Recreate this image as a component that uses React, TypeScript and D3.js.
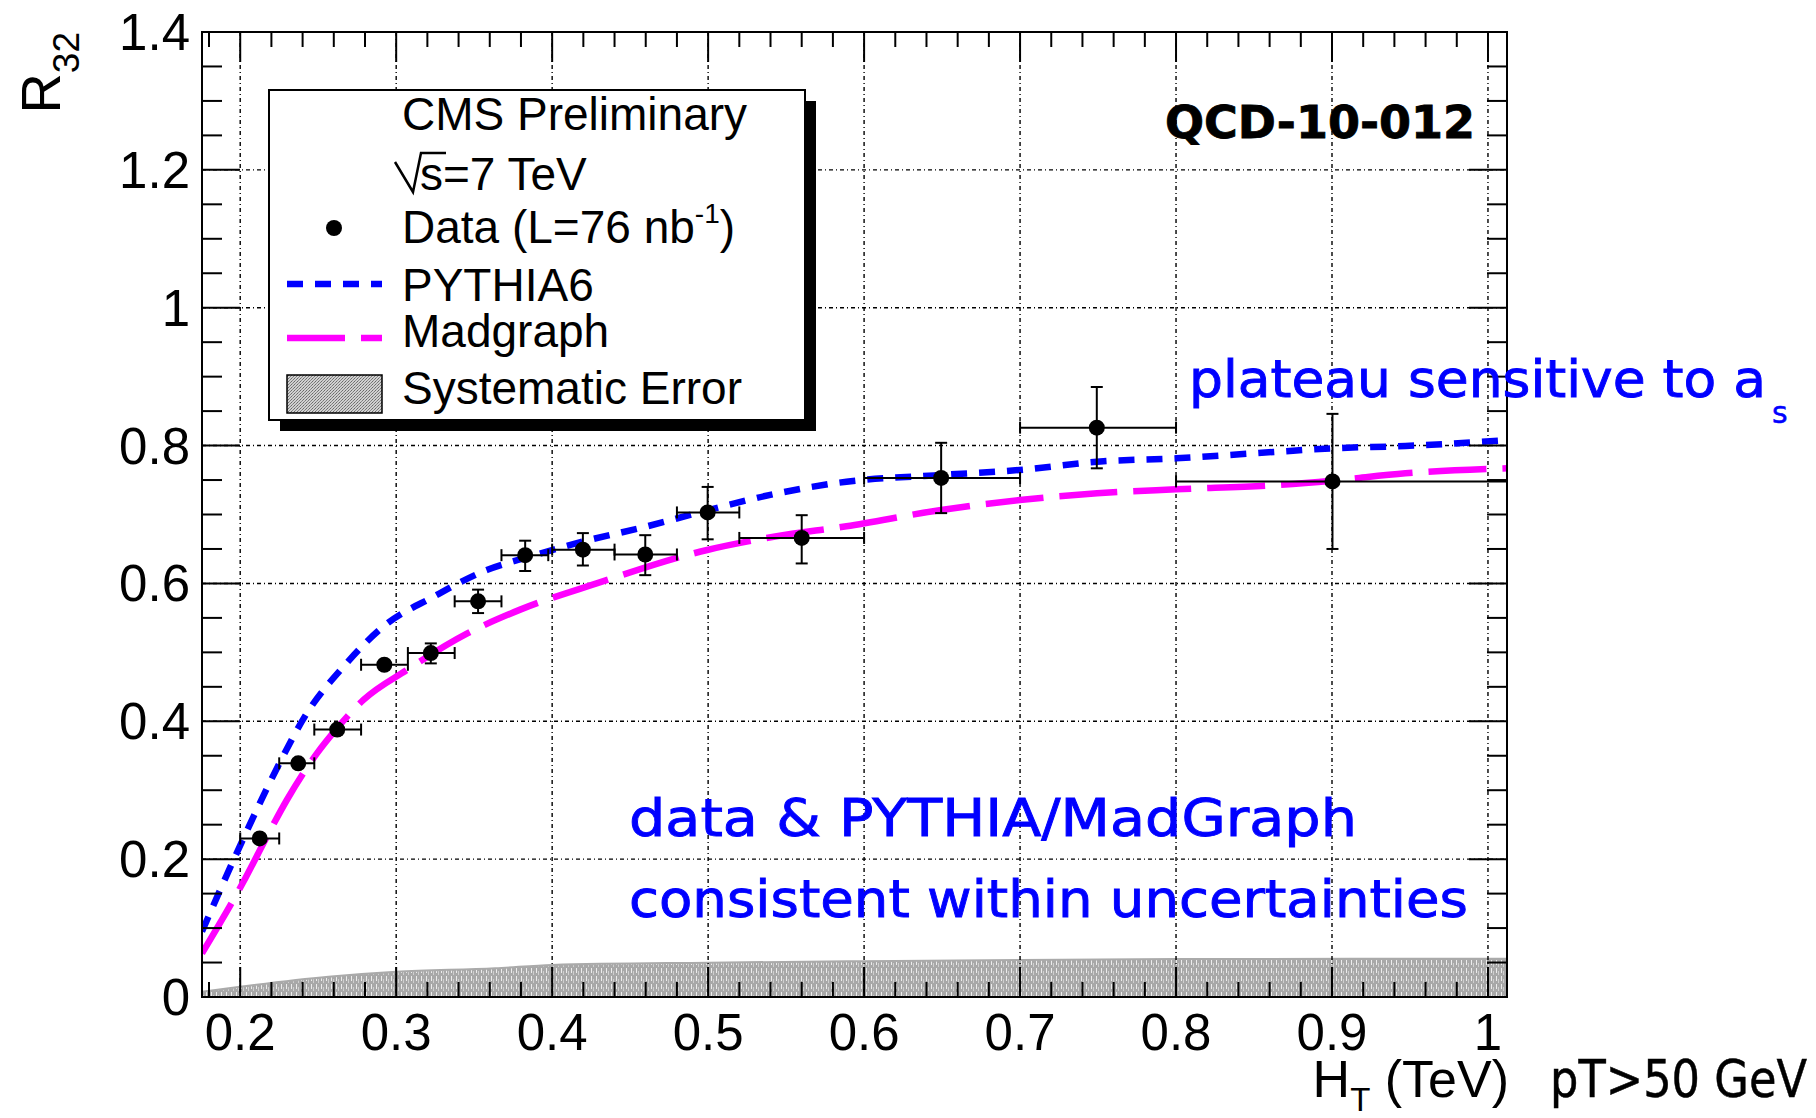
import React from 'react';
import * as d3 from 'd3';

const WIDTH = 1816;
const HEIGHT = 1118;

// ---- Data: R32 vs HT (TeV) ----
const binLow = [0.2, 0.225, 0.2475, 0.2775, 0.3075, 0.3375, 0.3675, 0.4, 0.44, 0.48, 0.52, 0.6, 0.7, 0.8];
const binHigh = [0.225, 0.2475, 0.2775, 0.3075, 0.3375, 0.3675, 0.3975, 0.44, 0.48, 0.52, 0.6, 0.7, 0.8, 1.1];
const dataHT = [0.2125, 0.2372, 0.2622, 0.2924, 0.3222, 0.3525, 0.3827, 0.4197, 0.4597, 0.4997, 0.56, 0.6494, 0.7492, 0.9003];
const dataR32 = [0.23, 0.339, 0.388, 0.482, 0.499, 0.574, 0.641, 0.649, 0.642, 0.703, 0.666, 0.753, 0.826, 0.748];
const dataUp = [0.236, 0.345, 0.394, 0.488, 0.513, 0.591, 0.662, 0.673, 0.670, 0.740, 0.699, 0.804, 0.885, 0.846];
const dataDown = [0.224, 0.333, 0.382, 0.476, 0.484, 0.557, 0.618, 0.626, 0.612, 0.664, 0.629, 0.702, 0.767, 0.650];

const pythiaHT = [0.1755, 0.2006, 0.2246, 0.2427, 0.2662, 0.293, 0.3239, 0.3581, 0.3827, 0.4193, 0.4594, 0.4994, 0.543, 0.5887, 0.6494, 0.6998, 0.7494, 0.8, 0.8647, 0.9, 0.947, 1.0122];
const pythiaR32 = [0.095, 0.223, 0.3366, 0.4116, 0.4792, 0.5397, 0.5807, 0.6195, 0.637, 0.6605, 0.682, 0.706, 0.73, 0.7476, 0.7573, 0.7646, 0.7766, 0.7815, 0.791, 0.796, 0.7994, 0.808];

const madgraphHT = [0.1755, 0.2032, 0.2171, 0.2299, 0.2492, 0.262, 0.279, 0.3069, 0.3453, 0.3795, 0.4285, 0.4994, 0.543, 0.5887, 0.6494, 0.6998, 0.7494, 0.8, 0.8647, 0.9, 0.947, 1.0122];
const madgraphR32 = [0.0634, 0.172, 0.2326, 0.2858, 0.3535, 0.3898, 0.431, 0.4744, 0.527, 0.562, 0.6, 0.6485, 0.668, 0.683, 0.7065, 0.721, 0.7307, 0.7365, 0.7428, 0.749, 0.7597, 0.767];

const systHT = [0.1755, 0.2, 0.2566, 0.3, 0.3635, 0.4, 0.5, 0.6, 0.7, 0.8, 1.0122];
const systErr = [0.0077, 0.015, 0.0295, 0.0367, 0.0416, 0.0464, 0.0498, 0.052, 0.0537, 0.0551, 0.0556];

const xTickValues = [0.2, 0.3, 0.4, 0.5, 0.6, 0.7, 0.8, 0.9, 1.0];
const xTickLabels = ['0.2', '0.3', '0.4', '0.5', '0.6', '0.7', '0.8', '0.9', '1'];
const yTickValues = [0, 0.2, 0.4, 0.6, 0.8, 1.0, 1.2, 1.4];
const yTickLabels = ['0', '0.2', '0.4', '0.6', '0.8', '1', '1.2', '1.4'];

const HELV = '"Liberation Sans", Arial, Helvetica, sans-serif';
const HAND = '"DejaVu Sans", "Noto Sans", sans-serif';

export default function App() {
  const L = 202, R = 1507, T = 32, B = 997;
  const x = d3.scaleLinear().domain([0.1755, 1.0122]).range([L, R]);
  const y = d3.scaleLinear().domain([0, 1.4]).range([B, T]);

  const xMinor = d3.range(0.18, 1.011, 0.02);
  const yMinor = d3.range(0, 1.4001, 0.05);

  const line = d3
    .line<[number, number]>()
    .x((d) => x(d[0]))
    .y((d) => y(d[1]))
    .curve(d3.curveMonotoneX);

  const pythiaPath = line(pythiaHT.map((v, i) => [v, pythiaR32[i]]) as [number, number][]) || '';
  const madPath = line(madgraphHT.map((v, i) => [v, madgraphR32[i]]) as [number, number][]) || '';
  const area = d3
    .area<[number, number]>()
    .x((d) => x(d[0]))
    .y0(y(0))
    .y1((d) => y(d[1]))
    .curve(d3.curveMonotoneX);
  const systPath = area(systHT.map((v, i) => [v, systErr[i]]) as [number, number][]) || '';

  const gridDash = '4 3 1 3';
  const cap = 6;
  const r = 8;

  return (
    <svg
      width={WIDTH}
      height={HEIGHT}
      style={{ position: 'absolute', left: 0, top: 0, background: '#fff' }}
      xmlns="http://www.w3.org/2000/svg"
    >
      <defs>
        <clipPath id="plotClip">
          <rect x={L} y={T} width={R - L} height={B - T} />
        </clipPath>
        <pattern id="systPat" width="5" height="8" patternUnits="userSpaceOnUse">
          <rect width="5" height="8" fill="#a8a8a8" />
          <rect x="1" y="0" width="1" height="5" fill="#ececec" />
          <rect x="3" y="3" width="1" height="4" fill="#cfcfcf" />
        </pattern>
        <pattern id="legPat" width="3" height="3" patternUnits="userSpaceOnUse">
          <rect width="3" height="3" fill="#d0d0d0" />
          <rect x="0" y="0" width="1" height="1" fill="#6a6a6a" />
          <rect x="2" y="1" width="1" height="1" fill="#7a7a7a" />
          <rect x="1" y="2" width="1" height="1" fill="#8a8a8a" />
        </pattern>
      </defs>
      <rect x={0} y={0} width={WIDTH} height={HEIGHT} fill="#fff" />

      {/* systematic band */}
      <path d={systPath} fill="url(#systPat)" stroke="#aaa" strokeWidth={2} clipPath="url(#plotClip)" />

      {/* grid */}
      <g stroke="#000" strokeWidth={1.4} strokeDasharray={gridDash} fill="none">
        {xTickValues.map((v) => (
          <line key={'gx' + v} x1={x(v)} x2={x(v)} y1={T} y2={B} />
        ))}
        {yTickValues
          .filter((v) => v > 0 && v < 1.4)
          .map((v) => (
            <line key={'gy' + v} x1={L} x2={R} y1={y(v)} y2={y(v)} />
          ))}
      </g>

      {/* model curves */}
      <g clipPath="url(#plotClip)" fill="none">
        <path d={madPath} stroke="#ff00ff" strokeWidth={6.5} strokeDasharray="58 16" />
        <path d={pythiaPath} stroke="#0000ff" strokeWidth={6.5} strokeDasharray="16 12" />
      </g>

      {/* data points */}
      <g clipPath="url(#plotClip)" stroke="#000" strokeWidth={2}>
        {dataHT.map((v, i) => {
          const cx = x(v);
          const cy = y(dataR32[i]);
          const x0 = x(binLow[i]);
          const x1 = x(binHigh[i]);
          const yt = y(dataUp[i]);
          const yb = y(dataDown[i]);
          const showV = cy - yt > r;
          return (
            <g key={'pt' + i}>
              <line x1={x0} x2={x1} y1={cy} y2={cy} />
              <line x1={x0} x2={x0} y1={cy - cap} y2={cy + cap} />
              <line x1={x1} x2={x1} y1={cy - cap} y2={cy + cap} />
              {showV && (
                <>
                  <line x1={cx} x2={cx} y1={yt} y2={yb} />
                  <line x1={cx - cap} x2={cx + cap} y1={yt} y2={yt} />
                  <line x1={cx - cap} x2={cx + cap} y1={yb} y2={yb} />
                </>
              )}
              <circle cx={cx} cy={cy} r={r} fill="#000" stroke="none" />
            </g>
          );
        })}
      </g>

      {/* frame and ticks */}
      <g stroke="#000" strokeWidth={2} fill="none">
        <rect x={L} y={T} width={R - L} height={B - T} />
        {xMinor.map((v) => {
          const major = xTickValues.some((t) => Math.abs(t - v) < 1e-6);
          const len = major ? 30 : 15;
          return (
            <g key={'xt' + v.toFixed(3)}>
              <line x1={x(v)} x2={x(v)} y1={B} y2={B - len} />
              <line x1={x(v)} x2={x(v)} y1={T} y2={T + len} />
            </g>
          );
        })}
        {yMinor.map((v) => {
          const major = yTickValues.some((t) => Math.abs(t - v) < 1e-6);
          const len = major ? 38 : 20;
          return (
            <g key={'yt' + v.toFixed(3)}>
              <line x1={L} x2={L + len} y1={y(v)} y2={y(v)} />
              <line x1={R} x2={R - len} y1={y(v)} y2={y(v)} />
            </g>
          );
        })}
      </g>

      {/* tick labels */}
      <g fontFamily={HELV} fontSize={51} fill="#000">
        {xTickValues.map((v, i) => (
          <text key={'xl' + v} x={x(v)} y={1050} textAnchor="middle">
            {xTickLabels[i]}
          </text>
        ))}
        {yTickValues.map((v, i) => (
          <text key={'yl' + v} x={190} y={y(v) + 18} textAnchor="end">
            {yTickLabels[i]}
          </text>
        ))}
      </g>

      {/* axis titles */}
      <text x={1509} y={1097} textAnchor="end" fontFamily={HELV} fontSize={52} fill="#000">
        H<tspan fontSize={33} dy={14}>T</tspan>
        <tspan dy={-14}> (TeV)</tspan>
      </text>
      <text
        transform="translate(60,32) rotate(-90)"
        textAnchor="end"
        fontFamily={HELV}
        fontSize={56}
        fill="#000"
      >
        R<tspan fontSize={37} dy={19}>32</tspan>
      </text>

      {/* legend */}
      <rect x={280} y={101} width={536} height={330} fill="#000" />
      <rect x={269} y={90} width={536} height={330} fill="#fff" stroke="#000" strokeWidth={2} />
      <g fontFamily={HELV} fontSize={46} fill="#000">
        <text x={402} y={130}>CMS Preliminary</text>
        <text x={420} y={190}>s=7 TeV</text>
        <text x={402} y={243}>
          Data (L=76 nb<tspan fontSize={28} dy={-20}>-1</tspan>
          <tspan dy={20}>)</tspan>
        </text>
        <text x={402} y={301}>PYTHIA6</text>
        <text x={402} y={347}>Madgraph</text>
        <text x={402} y={404}>Systematic Error</text>
      </g>
      <path d="M395 162 L413 192 L421 153 L446 153" fill="none" stroke="#000" strokeWidth={2.5} />
      <circle cx={334} cy={228} r={r} fill="#000" />
      <line x1={287} x2={382} y1={284} y2={284} stroke="#0000ff" strokeWidth={6.5} strokeDasharray="16 12" />
      <line x1={287} x2={382} y1={338} y2={338} stroke="#ff00ff" strokeWidth={6.5} strokeDasharray="58 16" />
      <rect x={287} y={375} width={95} height={38} fill="url(#legPat)" stroke="#000" strokeWidth={1.5} />

      {/* annotations */}
      <text
        x={1165}
        y={138}
        fontFamily={HAND}
        fontWeight="bold"
        fontSize={44}
        fill="#000"
        stroke="#000"
        strokeWidth={0.8}
        textLength={310}
        lengthAdjust="spacingAndGlyphs"
      >
        QCD-10-012
      </text>
      <g fontFamily={HAND} fontSize={52} fill="#0000ff" stroke="#0000ff" strokeWidth={0.9}>
        <text x={1189} y={397} textLength={577} lengthAdjust="spacingAndGlyphs">
          plateau sensitive to a
        </text>
        <text x={1772} y={423} fontSize={30} strokeWidth={0.5}>
          s
        </text>
        <text x={629} y={836} textLength={728} lengthAdjust="spacingAndGlyphs">
          data &amp; PYTHIA/MadGraph
        </text>
        <text x={629} y={917} textLength={839} lengthAdjust="spacingAndGlyphs">
          consistent within uncertainties
        </text>
      </g>
      <text
        transform="translate(1550,1097) scale(0.86,1)"
        fontFamily={HAND}
        fontSize={52}
        fill="#000"
        stroke="#000"
        strokeWidth={0.5}
      >
        pT&gt;50 GeV
      </text>
    </svg>
  );
}
